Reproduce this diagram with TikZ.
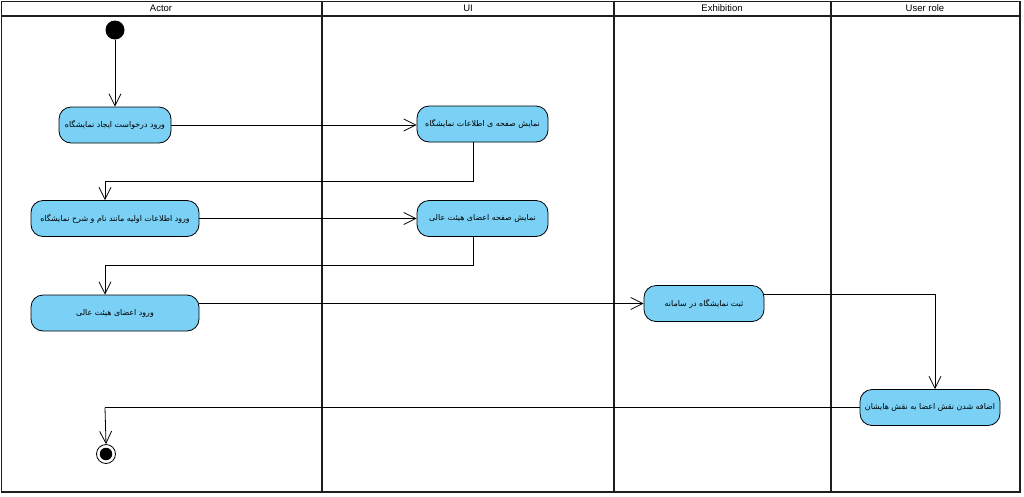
\documentclass[tikz,border=0pt]{standalone}
\usepackage{fontspec}
\setmainfont{Liberation Sans}
\newfontfamily\fa[Script=Arabic]{DejaVu Sans}
\TeXXeTstate=1
\usetikzlibrary{arrows.meta}
\definecolor{actfill}{RGB}{122,208,245}
\definecolor{lanecol}{RGB}{30,30,30}
\tikzset{
  act/.style={draw, fill=actfill, rounded corners=12pt, line width=0.8pt,
    font=\fa\fontsize{7.9}{9}\selectfont, inner sep=1pt, minimum height=36pt},
  lane/.style={draw=lanecol, line width=1.6pt},
  hdr/.style={font=\fontsize{9.5}{10}\selectfont, inner sep=0pt},
  flow/.style={line width=0.8pt, -{Straight Barb[length=12pt,width=12pt,line width=0.8pt]}},
  seg/.style={line width=0.8pt}
}
\begin{document}
\begin{tikzpicture}[x=1pt,y=-1pt]
\useasboundingbox (0,0) rectangle (1024,496);
% swimlanes
\draw[lane] (1.5,1.5) rectangle (1020,492);
\draw[lane] (1.5,16) -- (1020,16);
\draw[lane] (322,1.5) -- (322,492);
\draw[lane] (614,1.5) -- (614,492);
\draw[lane] (831,1.5) -- (831,492);
\node[hdr] (h1) at (161,8.5) {Actor};
\node[hdr] (h2) at (468,8.5) {UI};
\node[hdr] (h3) at (722,8.5) {Exhibition};
\node[hdr] (h4) at (925,8.5) {User role};
% start / end
\node[circle, fill=black, minimum size=19pt, inner sep=0pt] (S) at (115,30) {};
\node[circle, draw, line width=0.8pt, fill=white, minimum size=19pt, inner sep=0pt] (E) at (106,454) {};
\node[circle, fill=black, minimum size=12.5pt, inner sep=0pt] (Ei) at (106,454) {};
% actions
\node[act, minimum width=112pt] (A1) at (115,125) {\beginR ورود درخواست ایجاد نمایشگاه\endR};
\node[act, minimum width=168pt] (A2) at (115,218.5) {\beginR ورود اطلاعات اولیه  مانند نام و شرح نمایشگاه\endR};
\node[act, minimum width=168pt] (A3) at (115,313) {\beginR ورود اعضای هیئت عالی\endR};
\node[act, minimum width=131pt] (U1) at (482.5,124) {\beginR نمایش صفحه ی اطلاعات  نمایشگاه\endR};
\node[act, minimum width=131pt] (U2) at (482.5,218.5) {\beginR نمایش صفحه اعضای هیئت عالی\endR};
\node[act, minimum width=120pt] (X1) at (704,303.5) {\beginR ثبت نمایشگاه در سامانه\endR};
\node[act, minimum width=140pt] (R1) at (930,407.5) {\beginR اضافه شدن نقش اعضا به نقش هایشان\endR};
% bend points
\coordinate (k1) at (105,181);
\coordinate (k2) at (105,265);
\coordinate (k3) at (105,407.5);
% flows
\draw[flow] (S) -- (A1);
\draw[flow] (A1.east) -- (U1.west |- A1.east);
\draw[seg] ([xshift=-9.5pt]U1.south) |- (k1);
\draw[flow] (k1) -- (k1 |- A2.north);
\draw[flow] (A2.east) -- (U2.west);
\draw[seg] ([xshift=-9.5pt]U2.south) |- (k2);
\draw[flow] (k2) -- (k2 |- A3.north);
\draw[flow] (A3.east |- X1.west) -- (X1.west);
\draw[flow] ([yshift=9.5pt]X1.east) -| ([xshift=5pt]R1.north);
\draw[seg] (R1.west) -- (k3);
\draw[flow] (k3) -- (E.north);
\end{tikzpicture}
\end{document}
